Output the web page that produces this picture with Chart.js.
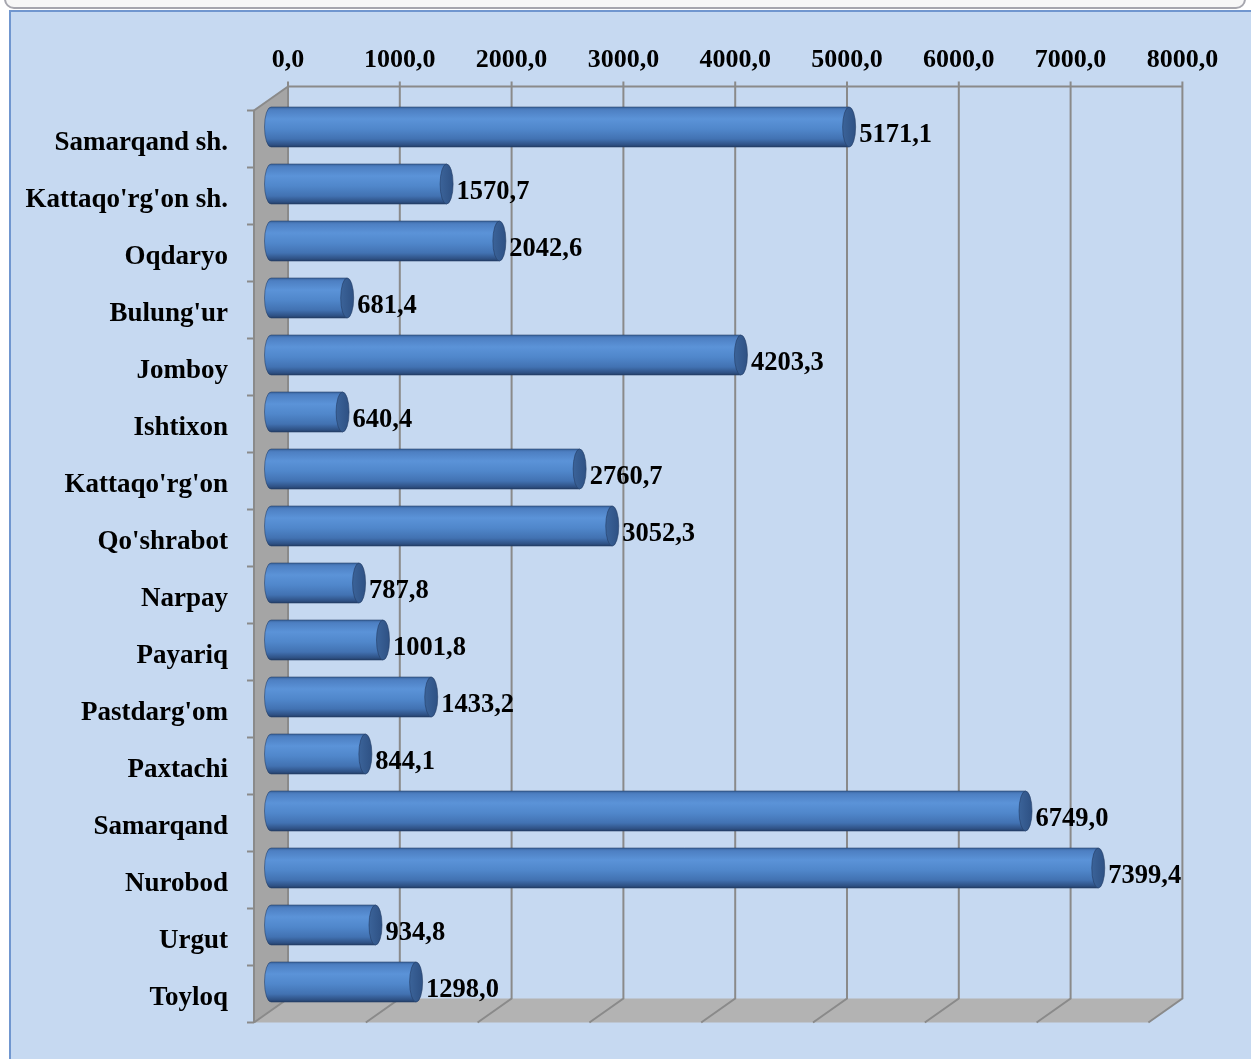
<!DOCTYPE html>
<html>
<head>
<meta charset="utf-8">
<script src="https://cdn.jsdelivr.net/npm/chart.js@4.4.1/dist/chart.umd.min.js"></script>
<style>
  html, body { margin: 0; padding: 0; background: #ffffff; overflow: hidden; }
  #topFrame {
    position: absolute; left: 4px; top: -30px; width: 1238px; height: 35px;
    border: 2px solid #a6a6ae; border-radius: 10px; background: #f7f7f7;
  }
  #box {
    position: absolute; left: 9px; top: 10px; width: 1270px; height: 1080px;
    border: 2px solid #7096cf; background: #c6d9f1;
  }
  #chart { position: absolute; left: 0; top: 0; }
</style>
</head>
<body>
<div id="topFrame"></div>
<div id="box"></div>
<canvas id="chart" width="1251" height="1059"></canvas>
<script>
// Hududlar bo'yicha qiymatlar
const districts = [
  "Samarqand sh.", "Kattaqo'rg'on sh.", "Oqdaryo", "Bulung'ur", "Jomboy",
  "Ishtixon", "Kattaqo'rg'on", "Qo'shrabot", "Narpay", "Payariq",
  "Pastdarg'om", "Paxtachi", "Samarqand", "Nurobod", "Urgut", "Toyloq"
];
const values = [
  5171.1, 1570.7, 2042.6, 681.4, 4203.3,
  640.4, 2760.7, 3052.3, 787.8, 1001.8,
  1433.2, 844.1, 6749.0, 7399.4, 934.8, 1298.0
];
const axisMin = 0;
const axisMax = 8000;
const axisStep = 1000;

const FONT = "'Times New Roman', 'Liberation Serif', serif";
const DX = 17; // demi-profondeur 3D
const DY = 12;

function fmt(v) {
  return v.toFixed(1).replace(".", ",");
}

// murs gris, sol et grille du fond
const wallsPlugin = {
  id: "walls",
  beforeDatasetsDraw(chart) {
    const ctx = chart.ctx;
    const a = chart.chartArea;
    const xs = chart.scales.x;
    const L = a.left, R = a.right, T = a.top, B = a.bottom;
    ctx.save();

    // mur gauche
    ctx.fillStyle = "#a5a5a5";
    ctx.beginPath();
    ctx.moveTo(L - DX, T + DY);
    ctx.lineTo(L + DX, T - DY);
    ctx.lineTo(L + DX, B - DY);
    ctx.lineTo(L - DX, B + DY);
    ctx.closePath();
    ctx.fill();

    // sol
    ctx.fillStyle = "#b3b3b3";
    ctx.beginPath();
    ctx.moveTo(L - DX, B + DY);
    ctx.lineTo(L + DX, B - DY);
    ctx.lineTo(R + DX, B - DY);
    ctx.lineTo(R - DX, B + DY);
    ctx.closePath();
    ctx.fill();

    ctx.strokeStyle = "#8a8a8a";
    ctx.lineWidth = 2;

    // grille verticale + lignes du sol
    for (let v = axisMin; v <= axisMax; v += axisStep) {
      const px = xs.getPixelForValue(v);
      ctx.beginPath();
      ctx.moveTo(px + DX, T - DY - 5);
      ctx.lineTo(px + DX, B - DY);
      ctx.lineTo(px - DX, B + DY);
      ctx.stroke();
    }

    // bord haut du fond
    ctx.beginPath();
    ctx.moveTo(L + DX, T - DY);
    ctx.lineTo(R + DX, T - DY);
    ctx.stroke();

    // arête du mur gauche
    ctx.beginPath();
    ctx.moveTo(L + DX, T - DY);
    ctx.lineTo(L - DX, T + DY);
    ctx.lineTo(L - DX, B + DY);
    ctx.stroke();

    // graduations des catégories
    const band = (B - T) / districts.length;
    for (let i = 0; i <= districts.length; i++) {
      const y = T + i * band + DY;
      ctx.beginPath();
      ctx.moveTo(L - DX - 7, y);
      ctx.lineTo(L - DX, y);
      ctx.stroke();
    }
    ctx.restore();
  }
};

// barres cylindriques + étiquettes de valeurs
const cylinderPlugin = {
  id: "cylinders",
  afterDatasetsDraw(chart) {
    const ctx = chart.ctx;
    const meta = chart.getDatasetMeta(0);
    ctx.save();
    meta.data.forEach((bar, i) => {
      const x = bar.x, base = bar.base, cy = bar.y;
      const h = bar.height;
      const top = cy - h / 2, bottom = cy + h / 2;
      const rx = 6.5, ry = h / 2;

      const g = ctx.createLinearGradient(0, top, 0, bottom);
      g.addColorStop(0, "#3a659f");
      g.addColorStop(0.07, "#4d7fc2");
      g.addColorStop(0.3, "#5b93d8");
      g.addColorStop(0.55, "#5087cb");
      g.addColorStop(0.8, "#4272b2");
      g.addColorStop(0.94, "#2f5286");
      g.addColorStop(1, "#243f68");

      ctx.fillStyle = g;
      ctx.beginPath();
      ctx.moveTo(base, top);
      ctx.lineTo(x, top);
      ctx.lineTo(x, bottom);
      ctx.lineTo(base, bottom);
      ctx.ellipse(base, cy, rx, ry, 0, Math.PI / 2, Math.PI * 1.5);
      ctx.closePath();
      ctx.fill();
      ctx.strokeStyle = "rgba(35,60,100,0.55)";
      ctx.lineWidth = 1;
      ctx.stroke();

      // bout du cylindre
      const cg = ctx.createLinearGradient(x - rx, 0, x + rx, 0);
      cg.addColorStop(0, "#3b6399");
      cg.addColorStop(1, "#2e5184");
      ctx.fillStyle = cg;
      ctx.beginPath();
      ctx.ellipse(x, cy, rx, ry, 0, 0, Math.PI * 2);
      ctx.fill();
      ctx.strokeStyle = "rgba(35,60,100,0.6)";
      ctx.stroke();

      // étiquette
      ctx.fillStyle = "#000000";
      ctx.font = "bold 26.5px " + FONT;
      ctx.textAlign = "left";
      ctx.textBaseline = "middle";
      ctx.fillText(fmt(values[i]), x + 10, cy + 8);
    });
    ctx.restore();
  }
};

const ctx = document.getElementById("chart").getContext("2d");
new Chart(ctx, {
  type: "bar",
  data: {
    labels: districts,
    datasets: [
      {
        label: "Qiymat",
        data: values,
        backgroundColor: "rgba(0,0,0,0)",
        borderWidth: 0,
        barThickness: 40
      }
    ]
  },
  options: {
    indexAxis: "y",
    responsive: false,
    animation: false,
    devicePixelRatio: 1,
    layout: { padding: { left: 0, top: 0, right: 85.6, bottom: 48.5 } },
    plugins: {
      legend: { display: false },
      tooltip: { enabled: false }
    },
    scales: {
      x: {
        position: "top",
        min: axisMin,
        max: axisMax,
        afterFit: (scale) => {
          scale.height = 98.5;
        },
        grid: { display: false, drawTicks: false },
        border: { display: false },
        ticks: {
          stepSize: axisStep,
          labelOffset: DX,
          padding: 23,
          color: "#000000",
          font: { family: FONT, size: 26, weight: "bold" },
          callback: (v) => fmt(v)
        }
      },
      y: {
        afterFit: (scale) => {
          scale.width = 271;
          scale.paddingTop = 0;
          scale.paddingBottom = 0;
        },
        grid: { display: false, drawTicks: false },
        border: { display: false },
        ticks: {
          labelOffset: 16,
          padding: 43,
          color: "#000000",
          font: { family: FONT, size: 27, weight: "bold" }
        }
      }
    }
  },
  plugins: [wallsPlugin, cylinderPlugin]
});
</script>
</body>
</html>
